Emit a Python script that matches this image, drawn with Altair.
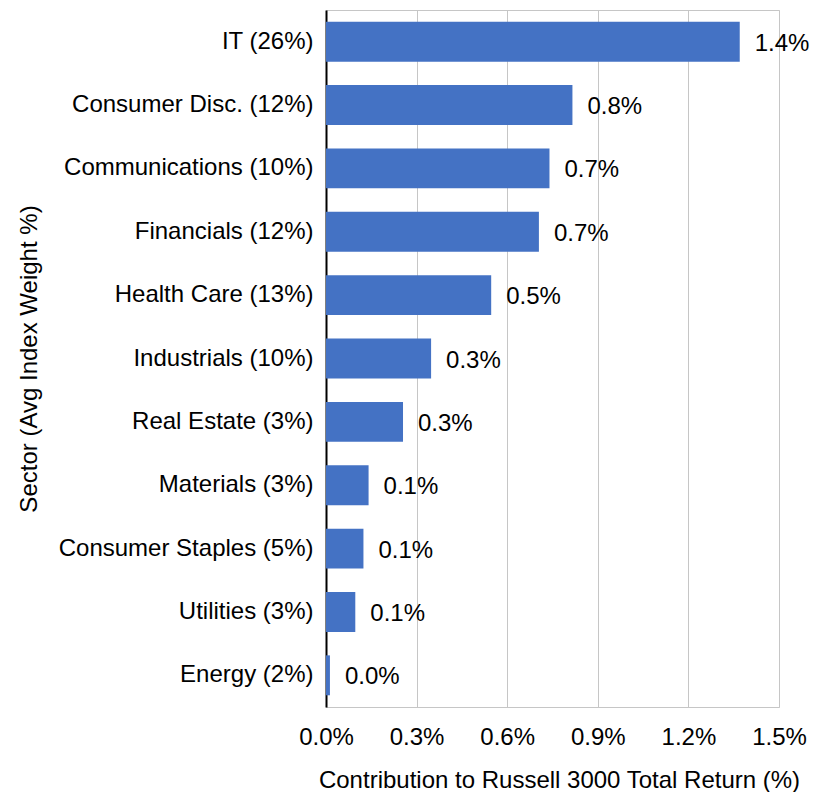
import altair as alt
import pandas as pd

sectors = [
    "IT (26%)",
    "Consumer Disc. (12%)",
    "Communications (10%)",
    "Financials (12%)",
    "Health Care (13%)",
    "Industrials (10%)",
    "Real Estate (3%)",
    "Materials (3%)",
    "Consumer Staples (5%)",
    "Utilities (3%)",
    "Energy (2%)",
]
contribution = [1.37, 0.816, 0.740, 0.705, 0.547, 0.348, 0.255, 0.141, 0.124, 0.097, 0.013]
x_ticks = [0.0, 0.3, 0.6, 0.9, 1.2, 1.5]

df = pd.DataFrame({"sector": sectors, "value": contribution})

FONT = "Liberation Sans"
FS = 24

y_enc = alt.Y(
    "sector:N",
    sort=sectors,
    scale=alt.Scale(paddingInner=0.37, paddingOuter=0.185),
    axis=alt.Axis(
        title="Sector (Avg Index Weight %)",
        titleFont=FONT,
        titleFontSize=FS,
        titleFontWeight="normal",
        titleColor="#000000",
        titleX=-297,
        titleBaseline="middle",
        titleAngle=-90,
        labelFont=FONT,
        labelFontSize=FS,
        labelColor="#000000",
        labelPadding=13,
        labelLimit=400,
        ticks=False,
        domain=True,
        domainColor="#000000",
        domainWidth=2,
        grid=False,
    ),
)

x_enc = alt.X(
    "value:Q",
    scale=alt.Scale(domain=[0, 1.5], nice=False),
    axis=alt.Axis(
        title="Contribution to Russell 3000 Total Return (%)",
        titleFont=FONT,
        titleFontSize=FS,
        titleFontWeight="normal",
        titleColor="#000000",
        titleX=233,
        titleY=80,
        titleBaseline="alphabetic",
        values=x_ticks,
        labelExpr="format(datum.value, '.1f') + '%'",
        labelFont=FONT,
        labelFontSize=FS,
        labelColor="#000000",
        labelBaseline="alphabetic",
        labelPadding=37,
        labelFlush=False,
        ticks=False,
        domain=False,
        grid=True,
        gridColor="#c6c6c6",
        gridWidth=1,
    ),
)

bars = alt.Chart(df).mark_bar(color="#4472C4").encode(x=x_enc, y=y_enc)

labels = (
    alt.Chart(df)
    .transform_calculate(label="format(datum.value, '.1f') + '%'")
    .mark_text(align="left", baseline="middle", dx=15, dy=2, font=FONT, fontSize=FS, color="#000000")
    .encode(x=alt.X("value:Q"), y=alt.Y("sector:N", sort=sectors), text="label:N")
)

chart = (
    alt.layer(bars, labels)
    .properties(
        width=453,
        height=697,
        autosize=alt.AutoSizeParams(type="none"),
        padding={"left": 318, "top": 2, "right": 41, "bottom": 85},
        background="#ffffff",
    )
    .configure_view(stroke="#c6c6c6", strokeWidth=1)
)

chart.save("out.html", embed_options={"renderer": "svg", "actions": False})
